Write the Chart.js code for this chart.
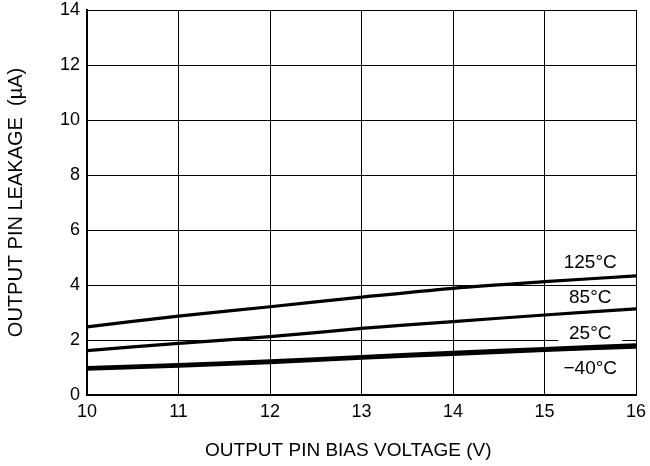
<!DOCTYPE html>
<html>
<head>
<meta charset="utf-8">
<script src="https://cdn.jsdelivr.net/npm/chart.js@4"></script>
<style>
  html, body { margin: 0; padding: 0; background: #fff; }
  #wrap { width: 650px; height: 466px; }
</style>
</head>
<body>
<div id="wrap"><canvas id="myChart"></canvas></div>
<script>
// data block
const voltages = [10, 11, 12, 13, 14, 15, 16];
const leak125 = [2.48, 2.87, 3.21, 3.56, 3.88, 4.12, 4.33];
const leak85 = [1.61, 1.88, 2.12, 2.42, 2.67, 2.91, 3.13];
const leak25 = [1.0, 1.11, 1.24, 1.4, 1.55, 1.69, 1.82];
const leakMinus40 = [0.94, 1.05, 1.18, 1.34, 1.48, 1.62, 1.74];
const curveLabels = ["125°C", "85°C", "25°C", "−40°C"];
const labelX = [15.5, 15.5, 15.5, 15.5];
const labelY = [4.84, 3.56, 2.25, 0.98];

const FONT = "'Liberation Sans', Arial, Helvetica, sans-serif";

function toPoints(ys) {
  return voltages.map((v, i) => ({ x: v, y: ys[i] }));
}

function lineSet(label, ys) {
  return {
    label: label,
    data: toPoints(ys),
    borderColor: "#000",
    borderWidth: 3.2,
    pointRadius: 0,
    tension: 0.3,
    fill: false,
  };
}

const data = {
  datasets: [
    lineSet("125°C", leak125),
    lineSet("85°C", leak85),
    lineSet("25°C", leak25),
    lineSet("−40°C", leakMinus40),
  ],
};

// plugin - curve labels with white boxes over grid
const curveLabelPlugin = {
  id: "curveLabels",
  afterDatasetsDraw(chart) {
    const ctx = chart.ctx;
    const xs = chart.scales.x;
    const ys = chart.scales.y;
    ctx.save();
    ctx.font = "19px " + FONT;
    ctx.textAlign = "center";
    ctx.textBaseline = "middle";
    curveLabels.forEach((txt, i) => {
      const px = xs.getPixelForValue(labelX[i]);
      const py = ys.getPixelForValue(labelY[i]);
      ctx.fillStyle = "#fff";
      ctx.fillRect(px - 32, py - 10, 64, 20);
      ctx.fillStyle = "#000";
      ctx.fillText(txt, px, py + 1);
    });
    ctx.restore();
  },
};

// config block
const config = {
  type: "line",
  data: data,
  options: {
    responsive: true,
    maintainAspectRatio: false,
    animation: false,
    layout: { padding: { top: 10, right: 14, left: 0, bottom: 0 } },
    plugins: {
      legend: { display: false },
      tooltip: { enabled: false },
    },
    scales: {
      x: {
        type: "linear",
        min: 10,
        max: 16,
        ticks: {
          stepSize: 1,
          color: "#000",
          font: { family: FONT, size: 18 },
          padding: 6,
        },
        grid: { color: "#000", lineWidth: 1, drawTicks: false },
        border: { color: "#000", width: 2 },
        title: {
          display: true,
          text: "OUTPUT PIN BIAS VOLTAGE (V)     ",
          color: "#000",
          font: { family: FONT, size: 19 },
          padding: { top: 12 },
        },
        afterFit(scale) {
          scale.height = 71;
          scale.paddingLeft = 0;
          scale.paddingRight = 0;
        },
      },
      y: {
        min: 0,
        max: 14,
        ticks: {
          stepSize: 2,
          color: "#000",
          font: { family: FONT, size: 18 },
          padding: 7,
        },
        grid: { color: "#000", lineWidth: 1, drawTicks: false },
        border: { color: "#000", width: 2 },
        title: {
          display: true,
          text: "OUTPUT PIN LEAKAGE  (µA)",
          color: "#000",
          font: { family: FONT, size: 20 },
          padding: { bottom: 10 },
        },
        afterFit(scale) {
          scale.width = 87;
          scale.paddingTop = 0;
          scale.paddingBottom = 0;
        },
      },
    },
  },
  plugins: [curveLabelPlugin],
};

// render init block
const myChart = new Chart(document.getElementById("myChart"), config);
</script>
</body>
</html>
